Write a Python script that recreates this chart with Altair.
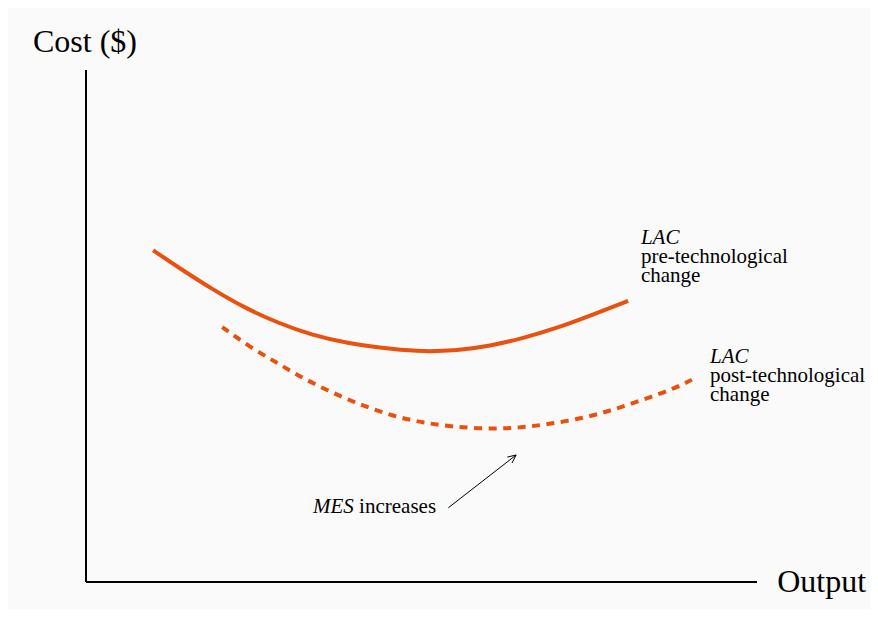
import altair as alt
import pandas as pd
import numpy as np

# --- data (economic units: Output 0..10, Cost 0..10) ---
pre_x = [1.00, 1.37, 1.88, 2.37, 2.86, 3.37, 3.86, 4.61, 5.02, 5.53, 6.02, 6.51, 7.02, 7.51, 8.08]
pre_y = [6.48, 6.15, 5.72, 5.35, 5.06, 4.82, 4.67, 4.54, 4.50, 4.52, 4.61, 4.76, 4.96, 5.20, 5.49]
post_x = [2.03, 2.44, 2.85, 3.23, 3.68, 4.13, 4.58, 5.02, 5.47, 5.98, 6.47, 6.92, 7.41, 7.85, 8.30, 8.75, 9.03]
post_y = [4.98, 4.59, 4.28, 3.98, 3.69, 3.44, 3.24, 3.11, 3.03, 2.99, 3.01, 3.09, 3.20, 3.36, 3.56, 3.77, 3.95]

label_text = ["LAC", "pre-technological", "change", "LAC", "post-technological", "change",
              "MES", "increases", "Cost ($)", "Output"]
label_x = [8.27, 8.27, 8.27, 9.30, 9.30, 9.30, 3.99, 4.07, -0.79, 10.30]
label_y = [6.60, 6.24, 5.85, 4.28, 3.91, 3.53, 1.35, 1.35, 10.35, -0.19]
label_style = ["italic", "normal", "normal", "italic", "normal", "normal",
               "italic", "normal", "normal", "normal"]
label_align = ["left", "left", "left", "left", "left", "left", "right", "left", "left", "left"]
label_size = [21, 21, 21, 21, 21, 21, 21, 21, 32, 32]

arrow_start = (5.40, 1.45)
arrow_end = (6.41, 2.48)

W, H = 671, 512
XD, YD = (0, 10), (0, 10)
FONT = "Liberation Serif"
ORANGE = "#e8510f"

xs = alt.Scale(domain=list(XD))
ys = alt.Scale(domain=list(YD))

pre = pd.DataFrame({"x": pre_x, "y": pre_y, "o": range(len(pre_x))})
post = pd.DataFrame({"x": post_x, "y": post_y, "o": range(len(post_x))})
labels = pd.DataFrame({"x": label_x, "y": label_y, "t": label_text, "s": label_style,
                       "a": label_align, "f": label_size})

noax = dict(axis=None)

pre_line = alt.Chart(pre).mark_line(color=ORANGE, strokeWidth=4, interpolate="basis", clip=False).encode(
    x=alt.X("x:Q", scale=xs, **noax), y=alt.Y("y:Q", scale=ys, **noax), order="o:Q")
post_line = alt.Chart(post).mark_line(color=ORANGE, strokeWidth=4, strokeDash=[8, 6.5],
                                      interpolate="basis", clip=False).encode(
    x=alt.X("x:Q", scale=xs, **noax), y=alt.Y("y:Q", scale=ys, **noax), order="o:Q")

# axes drawn as rules
axes_df = pd.DataFrame({"x": [XD[0], XD[0]], "y": [YD[0], YD[0]], "x2": [XD[0], XD[1]], "y2": [YD[1], YD[0]]})
axes = alt.Chart(axes_df).mark_rule(color="black", strokeWidth=2, clip=False).encode(
    x=alt.X("x:Q", scale=xs, **noax), y=alt.Y("y:Q", scale=ys, **noax), x2="x2:Q", y2="y2:Q")

# arrow with open head
px_per_x = W / (XD[1] - XD[0])
px_per_y = H / (YD[1] - YD[0])
dxp = (arrow_end[0] - arrow_start[0]) * px_per_x
dyp = (arrow_end[1] - arrow_start[1]) * px_per_y
L = np.hypot(dxp, dyp)
ux, uy = dxp / L, dyp / L
segs = [dict(x=arrow_start[0], y=arrow_start[1], x2=arrow_end[0], y2=arrow_end[1])]
for ang in (np.radians(25), -np.radians(25)):
    bx = -(ux * np.cos(ang) - uy * np.sin(ang)) * 9
    by = -(ux * np.sin(ang) + uy * np.cos(ang)) * 9
    segs.append(dict(x=arrow_end[0], y=arrow_end[1], x2=arrow_end[0] + bx / px_per_x, y2=arrow_end[1] + by / px_per_y))
arrow = alt.Chart(pd.DataFrame(segs)).mark_rule(color="black", strokeWidth=1, clip=False).encode(
    x=alt.X("x:Q", scale=xs, **noax), y=alt.Y("y:Q", scale=ys, **noax), x2="x2:Q", y2="y2:Q")

def text_layer(style, align, size):
    d = labels[(labels.s == style) & (labels.a == align) & (labels.f == size)]
    return alt.Chart(d).mark_text(font=FONT, fontSize=size, fontStyle=style, align=align,
                                  baseline="alphabetic", color="black", clip=False).encode(
        x=alt.X("x:Q", scale=xs, **noax), y=alt.Y("y:Q", scale=ys, **noax), text="t:N")

texts = [text_layer(s, a, f) for s in ("italic", "normal") for a in ("left", "right") for f in (21, 32)
         if len(labels[(labels.s == s) & (labels.a == a) & (labels.f == f)])]

chart = alt.layer(axes, pre_line, post_line, arrow, *texts).properties(
    width=W, height=H,
    autosize=alt.AutoSizeParams(type="none"),
    padding={"left": 78, "top": 62, "right": 113, "bottom": 27},
    background="#fafafa",
).configure_view(stroke=None)

chart.save("out.html", embed_options={"renderer": "svg", "actions": False})
